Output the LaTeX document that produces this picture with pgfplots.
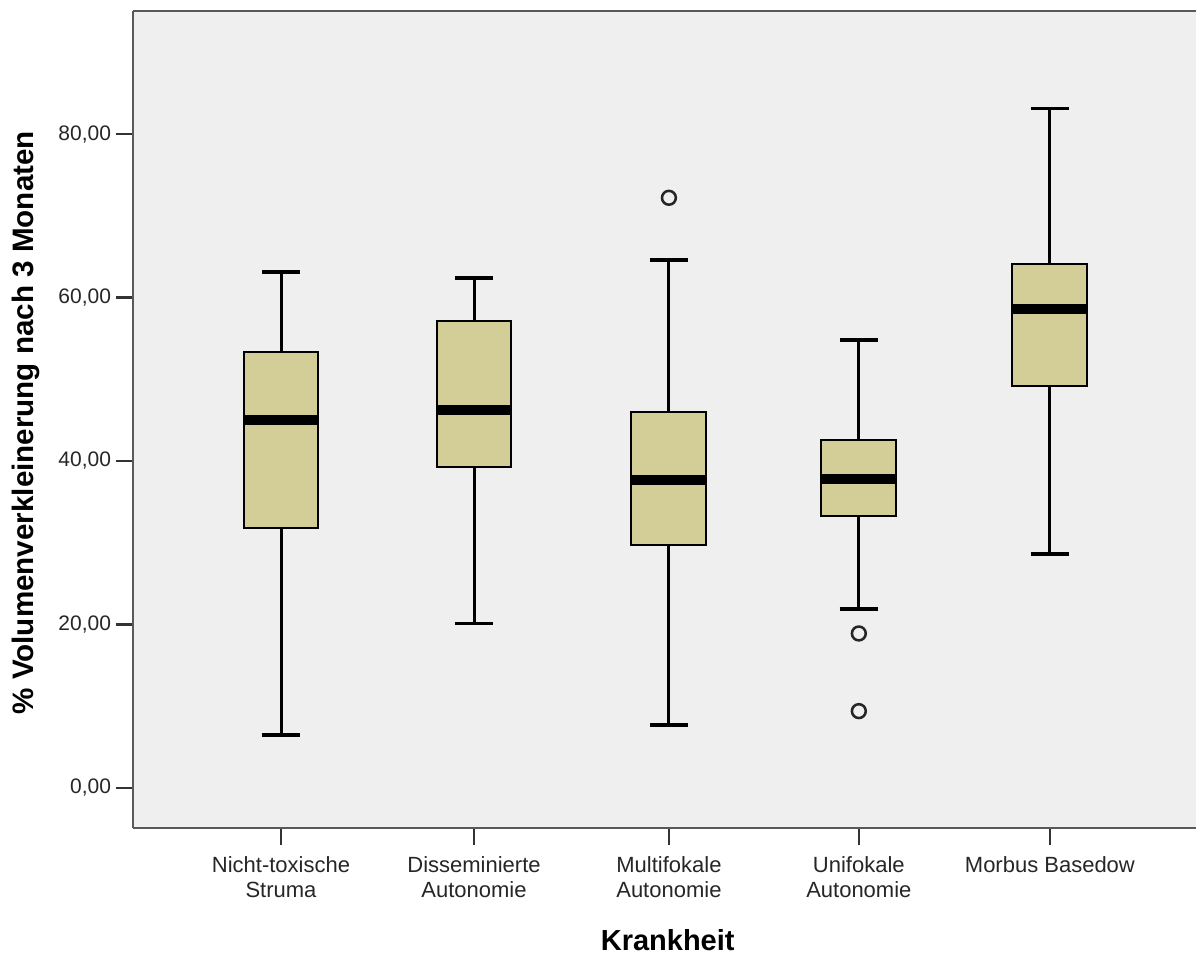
\documentclass[border=0pt]{standalone}
\usepackage{pgfplots}
\pgfplotsset{compat=1.18}
\usepackage{fontspec}
\setmainfont{Liberation Sans}
\definecolor{bg}{HTML}{EFEFEF}
\definecolor{boxfill}{HTML}{D3CE97}
\begin{document}
\begin{tikzpicture}
\useasboundingbox (-99.75pt,-97.5pt) rectangle (797.25pt,621pt);
\begin{axis}[
  at={(0,0)}, anchor=south west,
  scale only axis, width=797.25pt, height=612.75pt,
  xmin=-0.77, xmax=4.76, ymin=-4.9, ymax=95.05,
  axis background/.style={fill=bg},
  axis x line=box, axis y line=left,
  every outer x axis line/.append style={-},
  every outer y axis line/.append style={-},
  axis line style={-, line width=1.5pt, black!65},
  xtick={0,1.004,2.018,3.006,4},
  xticklabels={{Nicht-toxische\\Struma},{Disseminierte\\Autonomie},{Multifokale\\Autonomie},{Unifokale\\Autonomie},{Morbus Basedow}},
  xtick pos=bottom, ytick pos=left,
  ytick={0,20,40,60,80},
  tick align=outside, major tick length=13pt,
  tick style={line width=1.8pt, black!80},
  yticklabel style={font=\fontsize{15.75}{19}\selectfont, text=black!85, /pgf/number format/.cd, use comma, fixed, fixed zerofill, precision=2, assume math mode=true},
  xticklabel style={font=\fontsize{16.5}{18.75}\selectfont, text=black!85, align=center, anchor=north, yshift=-5pt},
  every axis y label/.style={at={(axis description cs:0,0.496)}, xshift=-80pt, rotate=90, anchor=center,
     font=\fontsize{22.2}{26}\selectfont\bfseries},
  every axis x label/.style={at={(axis description cs:0.503,0)}, anchor=center, yshift=-84pt,
     font=\fontsize{21.75}{26}\selectfont\bfseries},
  ylabel={\% Volumenverkleinerung nach 3 Monaten},
  xlabel={Krankheit},
]
% whiskers (vertical)
\addplot[black, line width=2.25pt, mark=none] table[row sep=crcr] {
x y\\
0 6.5\\ 0 63.1\\ \\
1.004 20.1\\ 1.004 62.4\\ \\
2.018 7.7\\ 2.018 64.6\\ \\
3.006 21.9\\ 3.006 54.8\\ \\
4 28.6\\ 4 83.1\\
};
% whisker caps
\addplot[black, line width=2.6pt, mark=none] table[row sep=crcr] {
x y\\
-0.1 6.5\\ 0.1 6.5\\ \\ -0.1 63.1\\ 0.1 63.1\\ \\
0.904 20.1\\ 1.104 20.1\\ \\ 0.904 62.4\\ 1.104 62.4\\ \\
1.918 7.7\\ 2.118 7.7\\ \\ 1.918 64.6\\ 2.118 64.6\\ \\
2.906 21.9\\ 3.106 21.9\\ \\ 2.906 54.8\\ 3.106 54.8\\ \\
3.9 28.6\\ 4.1 28.6\\ \\ 3.9 83.1\\ 4.1 83.1\\
};
% boxes (lower quartile to upper quartile)
\addplot[draw=black, fill=boxfill, line width=1.5pt, mark=none] coordinates {(-0.195,31.8) (0.195,31.8) (0.195,53.3) (-0.195,53.3)} -- cycle;
\addplot[draw=black, fill=boxfill, line width=1.5pt, mark=none] coordinates {(0.809,39.3) (1.199,39.3) (1.199,57.1) (0.809,57.1)} -- cycle;
\addplot[draw=black, fill=boxfill, line width=1.5pt, mark=none] coordinates {(1.823,29.7) (2.213,29.7) (2.213,46.0) (1.823,46.0)} -- cycle;
\addplot[draw=black, fill=boxfill, line width=1.5pt, mark=none] coordinates {(2.811,33.3) (3.201,33.3) (3.201,42.6) (2.811,42.6)} -- cycle;
\addplot[draw=black, fill=boxfill, line width=1.5pt, mark=none] coordinates {(3.805,49.2) (4.195,49.2) (4.195,64.1) (3.805,64.1)} -- cycle;
% medians
\addplot[black, line width=7.5pt, mark=none] table[row sep=crcr] {
x y\\
-0.195 45.0\\ 0.195 45.0\\ \\
0.809 46.2\\ 1.199 46.2\\ \\
1.823 37.7\\ 2.213 37.7\\ \\
2.811 37.8\\ 3.201 37.8\\ \\
3.805 58.6\\ 4.195 58.6\\
};
% outliers
\addplot[only marks, mark=o, mark size=5.2pt, mark options={line width=1.9pt, draw=black!85}] coordinates {(2.018,72.2) (3.006,18.9) (3.006,9.4)};
\end{axis}
\end{tikzpicture}
\end{document}
